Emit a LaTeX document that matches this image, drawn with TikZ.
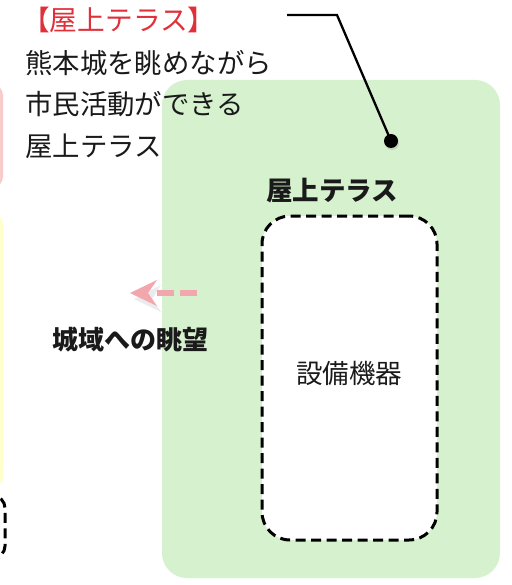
\documentclass[tikz,border=0pt]{standalone}
\usepackage{fontspec}
\setmainfont{Noto Sans CJK JP}
\usetikzlibrary{arrows.meta,shadows}
\definecolor{tred}{HTML}{E0303A}
\definecolor{tgreen}{HTML}{D6F1CE}
\definecolor{tpink}{HTML}{F9CCCC}
\definecolor{tyellow}{HTML}{FFFFCC}
\definecolor{tarrow}{HTML}{F2A7AE}
\definecolor{ttext}{HTML}{1A1A1A}
\tikzset{
  txt/.style={inner sep=0pt, text=ttext, font=\fontsize{27.4}{30}\selectfont},
  boldtxt/.style={txt, font=\fontsize{26}{30}\selectfont\bfseries},
  area/.style={rounded corners=25pt, draw=none},
  dashbox/.style={draw=black, line width=3pt, dash pattern=on 10pt off 5.5pt, rounded corners=28pt},
}
\begin{document}
\begin{tikzpicture}[x=1pt,y=-1pt]
\useasboundingbox (0,0) rectangle (511,585);
\fill[white] (0,0) rectangle (511,585);
% left-side partial boxes
\fill[tpink, rounded corners=10pt] (-60,85) rectangle (3,187);
\fill[tyellow, rounded corners=10pt] (-60,214) rectangle (3,487);
\draw[dashbox, rounded corners=12pt] (-60,496) rectangle (5,558);
% green terrace area
\fill[area, fill=tgreen] (162,80) rectangle (500,578);
% equipment dashed box
\node[dashbox, fill=white, minimum width=175pt, minimum height=324pt, inner sep=0pt] (equip) at (349.5,378) {};
\node[txt, font=\fontsize{26.5}{30}\selectfont] (equiplabel) at (349,373) {設備機器};
\node[boldtxt, font=\fontsize{26.5}{30}\selectfont\bfseries] (terracelabel) at (332,191) {屋上テラス};
% title and description
\node[txt, anchor=west, text=tred, font=\fontsize{27.7}{30}\selectfont] (title) at (22,20) {【屋上テラス】};
\node[txt, anchor=west] (l1) at (25,63) {熊本城を眺めながら};
\node[txt, anchor=west] (l2) at (25,104) {市民活動ができる};
\node[txt, anchor=west] (l3) at (25,146) {屋上テラス};
% callout leader
\coordinate (c0) at (287,15);
\coordinate (c1) at (337,15);
\node[circle, fill=black, inner sep=0pt, minimum size=14pt, drop shadow={opacity=0.25, shadow xshift=1pt, shadow yshift=-2pt}] (dot) at (391,141) {};
\draw[line width=2.3pt, black] (c0) -- (c1) -- (dot.center);
% view arrow
\coordinate (a0) at (197,293);
\coordinate (a1) at (155,293);
\coordinate (tip) at (130,293);
\fill[gray!45, opacity=0.35] (134,299) -- (161,285) -- (152,299) -- (161,312) -- cycle;
\draw[tarrow, line width=6pt, dash pattern=on 17pt off 6pt] (a0) -- (a1);
\fill[tarrow] (tip) -- (157,280) -- (148,293) -- (157,306) -- cycle;
\node[boldtxt] (view) at (130,340) {城域への眺望};
\end{tikzpicture}
\end{document}
